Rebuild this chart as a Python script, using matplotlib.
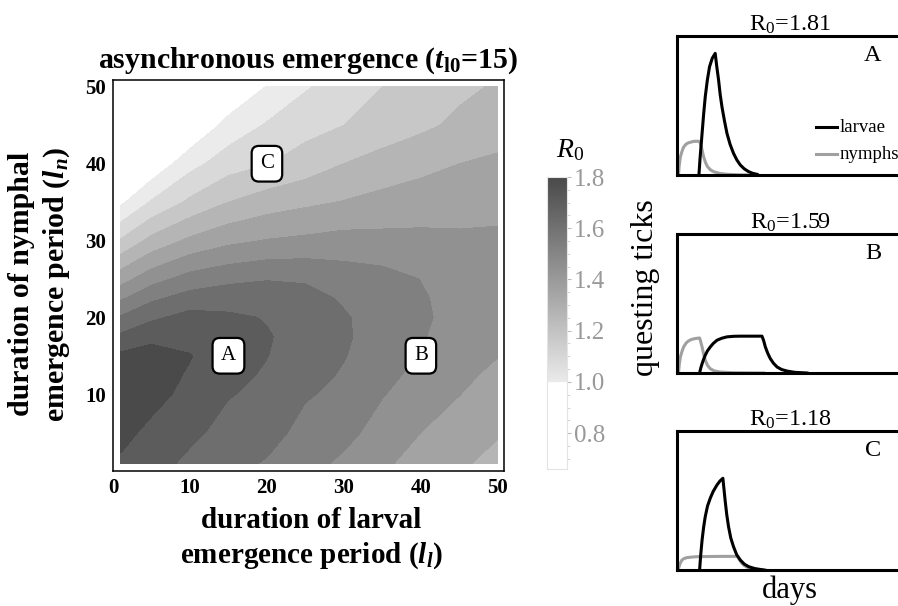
import numpy as np
import matplotlib
matplotlib.use("Agg")
import matplotlib.pyplot as plt

plt.rcParams['font.family'] = ['Liberation Serif', 'DejaVu Serif']
plt.rcParams['mathtext.fontset'] = 'custom'
plt.rcParams['mathtext.rm'] = 'Liberation Serif'
plt.rcParams['mathtext.it'] = 'Liberation Serif:italic'
plt.rcParams['mathtext.bf'] = 'Liberation Serif:bold'
plt.rcParams['mathtext.bfit'] = 'Liberation Serif:bold:italic'

# R0, rows = nymphal period l_n, columns = larval period l_l
ll_vals = [1, 5, 10, 15, 20, 25, 30, 35, 40, 45, 50]
ln_vals = [1, 5, 10, 12.5, 15, 17.5, 20, 22.5, 25, 30, 35, 40, 45, 50]
r0_ln01 = [1.885, 1.835, 1.78, 1.735, 1.69, 1.635, 1.58, 1.515, 1.465, 1.41, 1.38]
r0_ln05 = [1.93, 1.875, 1.82, 1.77, 1.74, 1.665, 1.63, 1.56, 1.50, 1.455, 1.405]
r0_ln10 = [1.955, 1.935, 1.87, 1.805, 1.78, 1.71, 1.675, 1.605, 1.555, 1.502, 1.455]
r0_ln12 = [1.945, 1.94, 1.89, 1.825, 1.79, 1.735, 1.69, 1.625, 1.575, 1.52, 1.48]
r0_ln15 = [1.92, 1.93, 1.905, 1.835, 1.802, 1.76, 1.705, 1.645, 1.595, 1.54, 1.502]
r0_ln17 = [1.82, 1.88, 1.865, 1.835, 1.806, 1.77, 1.712, 1.66, 1.608, 1.555, 1.52]
r0_ln20 = [1.71, 1.78, 1.835, 1.815, 1.795, 1.76, 1.708, 1.665, 1.615, 1.568, 1.535]
r0_ln22 = [1.585, 1.68, 1.74, 1.76, 1.75, 1.73, 1.69, 1.655, 1.61, 1.565, 1.54]
r0_ln25 = [1.46, 1.56, 1.64, 1.675, 1.695, 1.69, 1.655, 1.635, 1.598, 1.555, 1.54]
r0_ln30 = [1.21, 1.33, 1.42, 1.475, 1.505, 1.52, 1.535, 1.53, 1.525, 1.515, 1.515]
r0_ln35 = [0.98, 1.11, 1.22, 1.30, 1.35, 1.38, 1.405, 1.43, 1.45, 1.465, 1.475]
r0_ln40 = [0.75, 0.92, 1.065, 1.155, 1.195, 1.245, 1.30, 1.34, 1.37, 1.40, 1.42]
r0_ln45 = [0.55, 0.72, 0.90, 1.035, 1.11, 1.165, 1.20, 1.24, 1.28, 1.32, 1.35]
r0_ln50 = [0.35, 0.52, 0.72, 0.90, 1.005, 1.09, 1.15, 1.20, 1.24, 1.28, 1.31]

levels = [1.0, 1.1, 1.2, 1.3, 1.4, 1.5, 1.6, 1.7, 1.8, 1.9, 2.0]
band_grays = [235, 217, 199, 181, 163, 145, 128, 110, 92, 74]

# labelled points and their R0
pt_names = ['A', 'B', 'C']
pt_ll = [15, 40, 20]
pt_ln = [15, 15, 40]
pt_r0 = ['1.81', '1.59', '1.18']

# questing tick curves (days, relative density)
nym_a_x = [0.7, 1.0, 1.5, 2.2, 2.9, 4.0, 5.1, 7.4, 9.5, 10.2, 10.8, 11.3, 11.8,
           12.6, 13.5, 14.8, 16.2, 19.0, 22.1, 28.0, 35.4]
nym_a_y = [0.012, 0.07, 0.13, 0.17, 0.20, 0.222, 0.232, 0.242, 0.243, 0.235, 0.20,
           0.165, 0.13, 0.09, 0.06, 0.037, 0.024, 0.011, 0.005, 0.001, 0.0]
lar_a_x = [9.7, 10.2, 10.7, 11.1, 11.8, 12.5, 13.4, 14.4, 15.6, 16.9, 17.6, 18.4,
           19.1, 19.9, 21.0, 22.1, 23.5, 25.0, 26.5, 28.0, 29.8, 31.7, 33.5, 35.4]
lar_a_y = [0.0, 0.12, 0.22, 0.30, 0.44, 0.563, 0.68, 0.779, 0.84, 0.875, 0.78, 0.683,
           0.58, 0.49, 0.39, 0.30, 0.22, 0.156, 0.108, 0.072, 0.044, 0.024, 0.012, 0.005]

nym_b_x = [0.7, 1.0, 1.5, 2.2, 2.9, 4.0, 5.1, 6.5, 8.1, 10.0, 10.5, 11.1, 11.8,
           12.5, 13.5, 14.7, 16.5, 19.2, 25.0, 38.4]
nym_b_y = [0.007, 0.06, 0.115, 0.155, 0.187, 0.215, 0.231, 0.242, 0.248, 0.252, 0.225,
           0.187, 0.135, 0.092, 0.055, 0.031, 0.015, 0.007, 0.002, 0.0]
lar_b_x = [10.0, 10.5, 11.1, 11.8, 12.5, 13.5, 14.7, 16.0, 17.7, 19.8, 22.1, 25.0,
           28.0, 33.0, 37.6, 38.3, 39.1, 40.2, 41.3, 42.7, 44.3, 46.3, 48.7, 52.0, 57.5]
lar_b_y = [0.0, 0.035, 0.067, 0.10, 0.128, 0.16, 0.187, 0.212, 0.236, 0.25, 0.26, 0.264,
           0.265, 0.265, 0.265, 0.235, 0.187, 0.14, 0.103, 0.07, 0.043, 0.025, 0.014,
           0.005, 0.0]

nym_c_x = [0.7, 1.3, 2.2, 3.2, 4.4, 6.5, 8.9, 14.0, 19.2, 26.6, 27.1, 27.7, 28.5,
           29.5, 30.8, 32.4, 35.0, 39.1]
nym_c_y = [0.012, 0.045, 0.072, 0.083, 0.089, 0.093, 0.096, 0.097, 0.098, 0.098, 0.088,
           0.072, 0.052, 0.036, 0.022, 0.012, 0.005, 0.0]
lar_c_x = [10.0, 10.5, 11.1, 11.8, 12.5, 13.5, 14.7, 16.0, 17.7, 19.0, 20.3, 20.8,
           21.3, 22.0, 22.8, 23.8, 25.0, 26.4, 28.0, 29.8, 31.7, 34.5, 38.4]
lar_c_y = [0.0, 0.11, 0.216, 0.31, 0.384, 0.46, 0.516, 0.565, 0.612, 0.64, 0.66, 0.58,
           0.50, 0.40, 0.312, 0.23, 0.168, 0.11, 0.072, 0.042, 0.024, 0.01, 0.0]

W, H = 898, 606
fig = plt.figure(figsize=(W / 100, H / 100), dpi=100)


def frac(x0, y0, x1, y1):
    # pixel box -> figure fraction rect
    return [x0 / W, 1 - y1 / H, (x1 - x0) / W, (y1 - y0) / H]


# ---- contour map ----
ax = fig.add_axes(frac(113, 80, 504, 471))
r0 = np.array([r0_ln01, r0_ln05, r0_ln10, r0_ln12, r0_ln15, r0_ln17, r0_ln20,
               r0_ln22, r0_ln25, r0_ln30, r0_ln35, r0_ln40, r0_ln45, r0_ln50])
X, Y = np.meshgrid(ll_vals, ln_vals)
cols = [(g / 255, g / 255, g / 255) for g in band_grays]
ax.contourf(X, Y, r0, levels=levels, colors=cols)
ax.set_xlim(0, 50.8)
ax.set_ylim(0, 50.9)
ax.set_xticks([0, 10, 20, 30, 40, 50])
ax.set_yticks([10, 20, 30, 40, 50])
ax.tick_params(length=0, labelsize=15, pad=5)
for lab in ax.get_xticklabels() + ax.get_yticklabels():
    lab.set_fontweight('bold')
for sp in ax.spines.values():
    sp.set_linewidth(1.1)

for name, x, y in zip(pt_names, pt_ll, pt_ln):
    ax.text(x, y, name, ha='center', va='center', fontsize=15,
            bbox=dict(boxstyle='round,pad=0.4,rounding_size=0.35',
                      fc='white', ec='black', lw=1.6))

fig.text(308 / W, 1 - 68 / H,
         r'asynchronous emergence ($\mathbfit{t}_{\mathbf{l0}}$=15)',
         ha='center', va='baseline', fontsize=21.5, fontweight='bold')
fig.text(311 / W, 1 - 539 / H,
         'duration of larval\nemergence period ($\\mathbfit{l}_{\\mathbfit{l}}$)',
         ha='center', va='center', fontsize=21, fontweight='bold', linespacing=1.3)
fig.text(40 / W, 1 - 284 / H,
         'duration of nymphal\nemergence period ($\\mathbfit{l}_{\\mathbfit{n}}$)',
         ha='center', va='center', rotation=90, fontsize=21.5, fontweight='bold',
         linespacing=1.3)

# ---- colour bar ----
cax = fig.add_axes(frac(547, 177, 567, 469))
v = np.linspace(0.66, 1.8, 400)
g = np.where(v < 1.0, 1.0, (235 - (v - 1.0) / 0.8 * 161) / 255)
img = np.repeat(g[:, None, None], 3, axis=2)
cax.imshow(img, extent=[0, 1, 0.66, 1.8], origin='lower', aspect='auto')
cax.set_xlim(0, 1)
cax.set_ylim(0.66, 1.8)
cax.set_xticks([])
cax.yaxis.tick_right()
cax.set_yticks([0.8, 1.0, 1.2, 1.4, 1.6, 1.8])
cax.set_yticklabels(['0.8', '1.0', '1.2', '1.4', '1.6', '1.8'])
cax.set_yticks(np.arange(0.7, 1.8, 0.05), minor=True)
cax.tick_params(axis='y', which='major', length=3, color='#bbbbbb',
                labelcolor='#999999', labelsize=18, pad=2)
cax.tick_params(axis='y', which='minor', length=2, color='#cccccc')
for sp in cax.spines.values():
    sp.set_color('#e4e4e4')
    sp.set_linewidth(0.8)
fig.text(570 / W, 1 - 150 / H, r'$R_0$', ha='center', va='center', fontsize=20)

# ---- questing tick panels ----
panels = [
    (36, 175, nym_a_x, nym_a_y, lar_a_x, lar_a_y),
    (234, 373, nym_b_x, nym_b_y, lar_b_x, lar_b_y),
    (431, 570, nym_c_x, nym_c_y, lar_c_x, lar_c_y),
]
for i, (top, bot, nx, ny, lx, ly) in enumerate(panels):
    pax = fig.add_axes(frac(677, top, 903, bot))
    pax.plot(nx, ny, color='#a0a0a0', lw=2.2, solid_joinstyle='round')
    pax.plot(lx, ly, color='black', lw=2.2, solid_joinstyle='round')
    pax.set_xlim(0, 100)
    pax.set_ylim(0, 1)
    pax.set_xticks([])
    pax.set_yticks([])
    for sp in pax.spines.values():
        sp.set_linewidth(2.2)
    pax.set_title('R$_0$=' + pt_r0[i], fontsize=17.5, pad=3)
    pax.text(0.867, 0.863, pt_names[i], transform=pax.transAxes,
             ha='center', va='center', fontsize=17.5)
    if i == 0:
        pax.plot([61.5, 71], [0.343, 0.343], color='black', lw=2.2)
        pax.plot([61.5, 71], [0.151, 0.151], color='#a0a0a0', lw=2.2)
        pax.text(71.8, 0.343, 'larvae', va='center', fontsize=13.5)
        pax.text(71.8, 0.151, 'nymphs', va='center', fontsize=13.5)

fig.text(645 / W, 1 - 288 / H, 'questing ticks', rotation=90,
         ha='center', va='center', fontsize=23)
fig.text(790 / W, 1 - 590 / H, 'days', ha='center', va='center', fontsize=22)

fig.savefig('out.png', dpi=100)
